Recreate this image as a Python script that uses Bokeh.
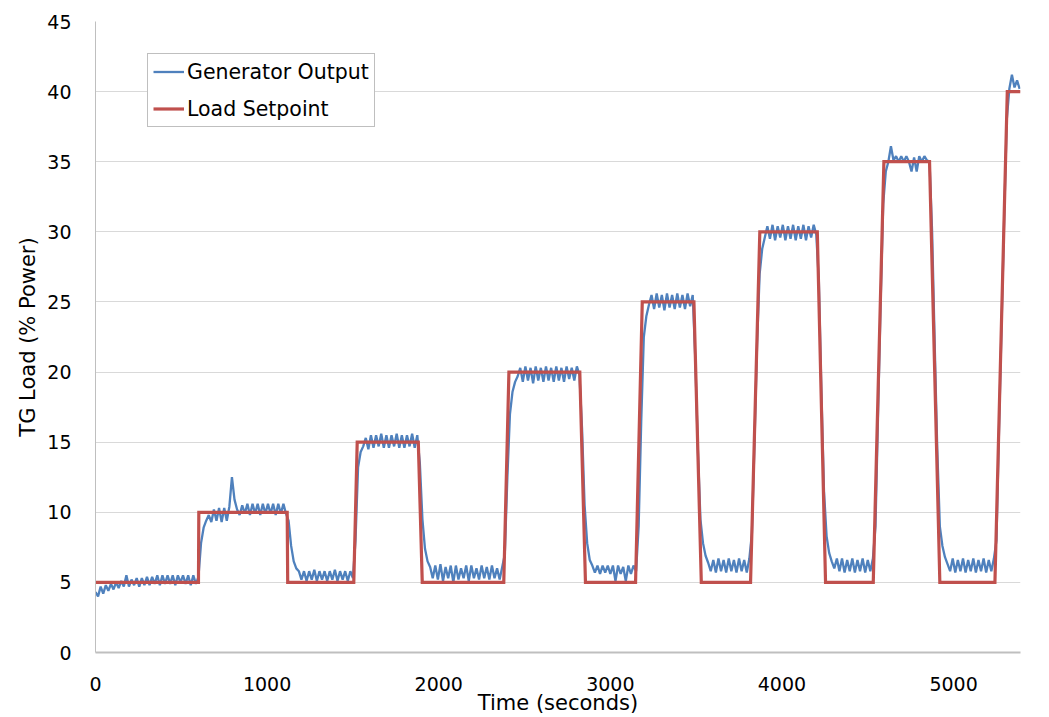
from bokeh.plotting import figure
from bokeh.models import Range1d, FixedTicker, Legend, LegendItem
from bokeh.embed import file_html
from bokeh.resources import INLINE

# ---------------- data ----------------
# Load setpoint: breakpoints (seconds) and value (% power)
setpoint_time = [0, 600, 602, 1117, 1120, 1505, 1525, 1881, 1904, 2379, 2409,
                 2822, 2855, 3147, 3186, 3487, 3530, 3817, 3871, 4206, 4254,
                 4532, 4594, 4860, 4920, 5241, 5313, 5390]
setpoint_load = [5, 5, 10, 10, 5, 5, 15, 15, 5, 5, 20, 20, 5, 5, 25, 25, 5, 5,
                 30, 30, 5, 5, 35, 35, 5, 5, 40, 40]

# Generator output, one reading every SAMPLE_PERIOD seconds starting at t = 0
SAMPLE_PERIOD = 15
gen_seg1 = [4.3, 4.0, 4.7, 4.2, 4.8, 4.4, 4.9, 4.5, 5.0, 4.6, 5.1, 4.7, 5.5, 4.7,
            5.2, 4.8, 5.3, 4.7, 5.3, 4.8, 5.4, 4.8, 5.4, 4.9, 5.5, 4.8, 5.5, 4.9,
            5.5, 4.9, 5.5, 4.8, 5.5, 5.0, 5.5, 4.9, 5.5, 4.8, 5.5, 4.9, 5.4]
gen_seg2 = [7.8, 8.9, 9.4, 9.8, 9.3, 10.2, 9.4, 10.3, 9.3, 10.3, 9.4, 10.4, 12.5,
            10.9, 10.2, 9.8, 10.5, 9.9, 10.6, 9.8, 10.6, 9.9, 10.6, 9.8, 10.6,
            9.9, 10.6, 9.9, 10.6, 9.8, 10.6, 9.9, 10.6, 9.9]
gen_seg3 = [9.4, 7.6, 6.5, 6.0, 5.8, 5.2, 5.8, 5.1, 5.8, 5.2, 5.9, 5.1, 5.8, 5.2,
            5.8, 5.1, 5.8, 5.2, 5.9, 5.1, 5.8, 5.2, 5.8, 5.1, 5.8, 5.3]
gen_seg4 = [8.0, 13.2, 14.3, 14.7, 15.3, 14.5, 15.5, 14.6, 15.5, 14.7, 15.6, 14.6,
            15.5, 14.6, 15.5, 14.7, 15.6, 14.6, 15.5, 14.6, 15.5, 14.7, 15.6,
            14.6, 15.5, 13.5]
gen_seg5 = [9.5, 7.4, 6.5, 6.1, 5.3, 6.2, 5.2, 6.3, 5.1, 6.1, 5.3, 6.2, 5.0, 6.2,
            5.2, 6.0, 5.3, 6.2, 5.1, 6.2, 5.3, 6.0, 5.2, 6.2, 5.3, 6.1, 5.2, 6.2,
            5.3, 6.0, 5.2, 6.1]
gen_seg6 = [7.0, 12.5, 17.0, 18.6, 19.3, 19.7, 20.3, 19.3, 20.4, 19.4, 20.3, 19.2,
            20.4, 19.4, 20.3, 19.3, 20.4, 19.4, 20.3, 19.3, 20.4, 19.4, 20.3,
            19.3, 20.4, 19.5, 20.3, 19.4, 20.4, 19.8]
gen_seg7 = [16.0, 10.5, 7.8, 6.6, 6.2, 5.7, 6.2, 5.6, 6.2, 5.7, 6.2, 5.6, 6.2, 5.1,
            6.2, 5.6, 6.1, 5.1, 6.2, 5.6, 6.2, 5.8]
gen_seg8 = [9.0, 16.5, 22.5, 24.0, 24.8, 25.5, 24.5, 25.6, 24.6, 25.5, 24.4, 25.6,
            24.6, 25.5, 24.5, 25.6, 24.6, 25.5, 24.5, 25.6, 24.7, 25.5, 21.0,
            14.5, 9.5]
gen_seg9 = [7.8, 6.9, 6.4, 5.8, 6.6, 5.7, 6.7, 5.8, 6.6, 5.7, 6.7, 5.8, 6.6, 5.7,
            6.7, 5.8, 6.6, 5.7, 6.7]
gen_seg10 = [8.5, 15.0, 22.0, 27.0, 28.8, 29.6, 30.4, 29.5, 30.5, 29.4, 30.4,
             29.6, 30.5, 29.4, 30.4, 29.5, 30.5, 29.4, 30.4, 29.5, 30.5, 29.4,
             30.4, 29.6, 30.5, 29.8, 26.5, 18.5, 11.5, 8.3]
gen_seg11 = [7.1, 6.5, 6.0, 6.7, 5.8, 6.7, 5.7, 6.6, 5.8, 6.7, 5.7, 6.6, 5.8, 6.7,
             5.7, 6.6, 5.8, 6.7, 9.0, 17.0, 25.0, 32.0]
gen_seg12 = [34.3, 35.0, 36.1, 35.1, 35.4, 35.0, 35.4, 35.0, 35.4, 35.0, 34.3,
             35.3, 34.3, 35.4, 35.0, 35.4, 35.1, 35.0, 30.0, 22.0, 14.5, 9.0]
gen_seg13 = [7.6, 6.8, 6.3, 5.8, 6.7, 5.7, 6.6, 5.8, 6.7, 5.7, 6.6, 5.8, 6.7, 5.7,
             6.6, 5.8, 6.7, 5.7, 6.6, 5.8, 6.7]
gen_seg14 = [8.0, 16.0, 23.5, 31.0, 38.0, 40.2, 41.2, 40.3, 40.8, 40.2]

gen_load = (gen_seg1 + gen_seg2 + gen_seg3 + gen_seg4 + gen_seg5 + gen_seg6 +
            gen_seg7 + gen_seg8 + gen_seg9 + gen_seg10 + gen_seg11 + gen_seg12 +
            gen_seg13 + gen_seg14)
gen_time = [SAMPLE_PERIOD * k for k in range(len(gen_load))]

x_ticks = [0, 1000, 2000, 3000, 4000, 5000]
y_ticks = [0, 5, 10, 15, 20, 25, 30, 35, 40, 45]

# ---------------- figure ----------------
FONT = "DejaVu Sans"
BLUE = "#4f81bd"
RED = "#c0504d"

p = figure(frame_width=925, frame_height=631,
           min_border_left=95, min_border_top=21, min_border_right=21,
           min_border_bottom=10,
           x_range=Range1d(0, 5390), y_range=Range1d(0, 45),
           output_backend="svg", toolbar_location=None)
p.outline_line_color = None
p.background_fill_color = "white"
p.border_fill_color = "white"

blue = p.line(gen_time, gen_load, line_color=BLUE, line_width=2.3,
              line_join="bevel")
red = p.line(setpoint_time, setpoint_load, line_color=RED, line_width=3.2,
             line_join="miter")

# grid
p.xgrid.grid_line_color = None
p.ygrid.grid_line_color = "#d9d9d9"
p.ygrid.grid_line_width = 1

# axes
for ax in (p.xaxis[0], p.yaxis[0]):
    ax.major_tick_line_color = None
    ax.minor_tick_line_color = None
    ax.major_tick_out = 0
    ax.major_tick_in = 0
    ax.axis_line_color = "#bfbfbf"
    ax.major_label_text_font = FONT
    ax.major_label_text_font_size = "19px"
    ax.major_label_text_color = "black"
    ax.axis_label_text_font = FONT
    ax.axis_label_text_font_style = "normal"
    ax.axis_label_text_color = "black"
    ax.axis_label_text_font_size = "21px"

p.xaxis[0].ticker = FixedTicker(ticks=x_ticks)
p.yaxis[0].ticker = FixedTicker(ticks=y_ticks)
p.xaxis[0].axis_line_width = 2
p.yaxis[0].axis_line_width = 1
p.xaxis[0].axis_label = "Time (seconds)"
p.yaxis[0].axis_label = "TG Load (% Power)"
p.xaxis[0].major_label_standoff = 24
p.xaxis[0].axis_label_standoff = -3
p.yaxis[0].major_label_standoff = 24
p.yaxis[0].axis_label_standoff = 4

legend = Legend(items=[LegendItem(label="Generator Output", renderers=[blue]),
                       LegendItem(label="Load Setpoint", renderers=[red])],
                location=(52, 525))
legend.border_line_color = "#808080"
legend.border_line_width = 1
legend.background_fill_color = "white"
legend.background_fill_alpha = 1
legend.label_text_font = FONT
legend.label_text_font_size = "20.5px"
legend.label_text_color = "black"
legend.padding = 5
legend.spacing = 12
legend.margin = 0
legend.glyph_width = 31
legend.glyph_height = 25
legend.label_height = 25
legend.label_standoff = 3
p.add_layout(legend, "center")

open("out.html", "w").write(file_html(p, INLINE))
